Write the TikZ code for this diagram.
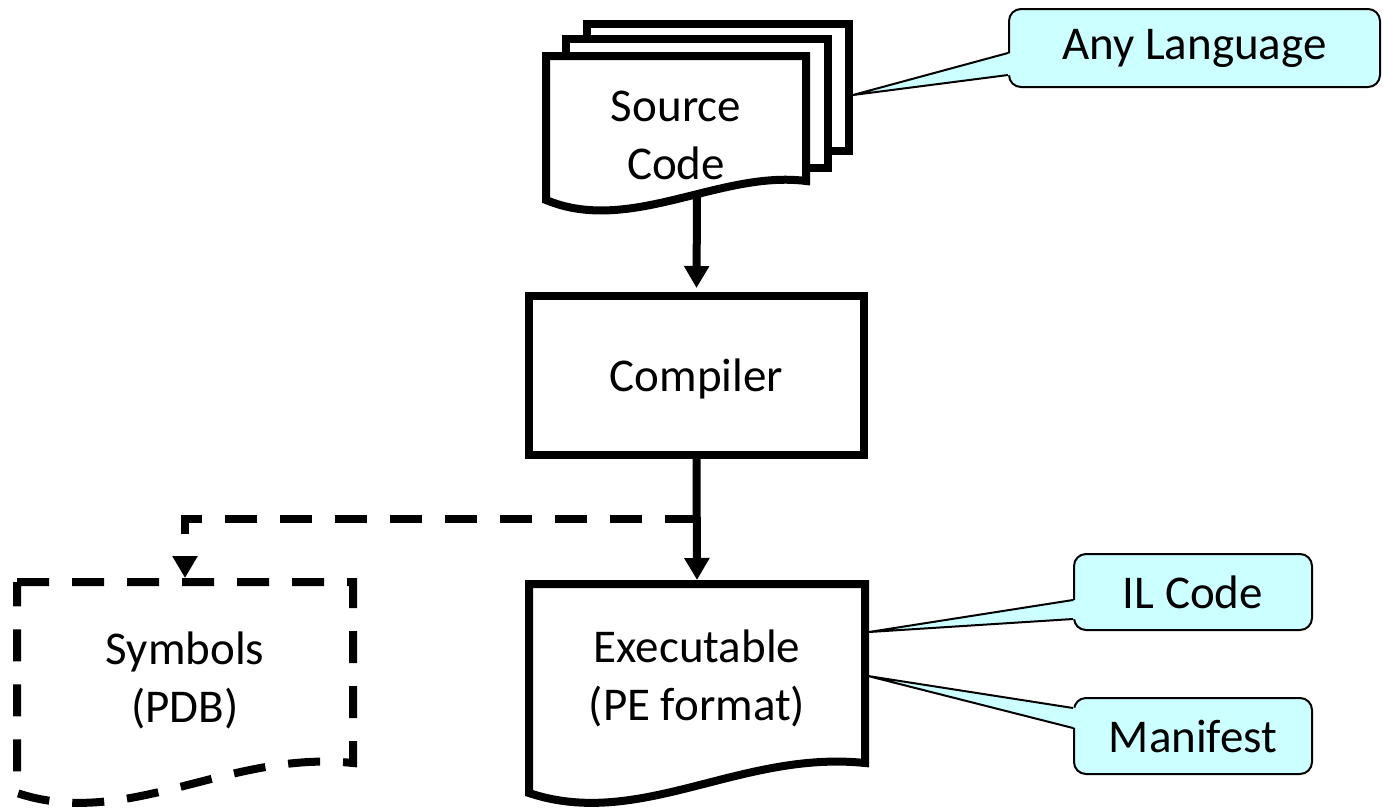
\documentclass[tikz,border=0pt]{standalone}
\usepackage{fontspec}
\setmainfont{Carlito}
\usetikzlibrary{arrows.meta}
\definecolor{callfill}{RGB}{204,255,255}
\begin{document}
\begin{tikzpicture}[x=1pt,y=-1pt,
  doc/.style={draw=black,line width=8pt,fill=white},
  symdoc/.style={draw=black,line width=8pt,dash pattern=on 32pt off 23pt},
  flow/.style={line width=8pt,-{Triangle[length=22pt,width=24pt]}},
  dflow/.style={flow,dash pattern=on 32pt off 23pt},
  lbl/.style={font=\fontsize{47}{58}\selectfont,align=center,inner sep=0pt},
  call/.style={draw=black,line width=2pt,fill=callfill,rounded corners=12pt,font=\fontsize{47}{58}\selectfont,inner sep=0pt},
  ptr/.style={draw=black,line width=2pt,line join=round}
]
\useasboundingbox (0,0) rectangle (1383,809);
% source code pages
\path[doc] (587,24) rectangle (849,151);
\path[doc] (566,39) rectangle (828,168);
\path[doc] (546,56) -- (806,56) -- (806,181) .. controls (720,170) and (630,235) .. (546,200) -- cycle;
\node[lbl] (src) at (676,135) {Source\\Code};
% compiler
\node[lbl,draw=black,line width=8pt,minimum width=335pt,minimum height=159pt,text depth=0pt] (comp) at (696.5,375.5) {Compiler};
% executable
\path[doc] (529,584) -- (865,584) -- (865,763) .. controls (740,750) and (640,830) .. (529,793) -- cycle;
\node[lbl] (exe) at (697,678) {Executable\\(PE format)};
% symbols
\path[symdoc] (17,582) -- (353,582) -- (353,763) .. controls (228,750) and (128,830) .. (17,793) -- cycle;
\node[lbl] (sym) at (185,680) {Symbols\\(PDB)};
% connectors
\coordinate (srcbot) at (697,197);
\coordinate (exetop) at (697,580);
\coordinate (branch) at (697,519);
\coordinate (symtop) at (185,578);
\draw[flow] (srcbot) -- ([yshift=4pt]comp.north);
\draw[flow] (comp.south) -- (exetop);
\draw[dflow] (branch) -| (symtop);
% callouts
\node[call,minimum width=371pt,minimum height=78pt] (lang) at (1194.5,48) {Any Language};
\node[call,minimum width=238pt,minimum height=76pt] (il) at (1193,592) {IL Code};
\node[call,minimum width=238pt,minimum height=76pt] (man) at (1193,736) {Manifest};
\coordinate (langtip) at (853,95);
\coordinate (iltip) at (869,632);
\coordinate (mantip) at (868,676);
\fill[callfill] (langtip) -- ([xshift=3pt,yshift=-5pt]lang.west) -- ([xshift=3pt,yshift=-27pt]lang.west) -- cycle;
\draw[ptr] ([yshift=-5pt]lang.west) -- (langtip) -- ([yshift=-27pt]lang.west);
\fill[callfill] (iltip) -- ([xshift=3pt,yshift=-8pt]il.west) -- ([xshift=3pt,yshift=-27pt]il.west) -- cycle;
\draw[ptr] ([yshift=-8pt]il.west) -- (iltip) -- ([yshift=-27pt]il.west);
\fill[callfill] (mantip) -- ([xshift=3pt,yshift=28pt]man.west) -- ([xshift=3pt,yshift=8pt]man.west) -- cycle;
\draw[ptr] ([yshift=28pt]man.west) -- (mantip) -- ([yshift=8pt]man.west);
\end{tikzpicture}
\end{document}
